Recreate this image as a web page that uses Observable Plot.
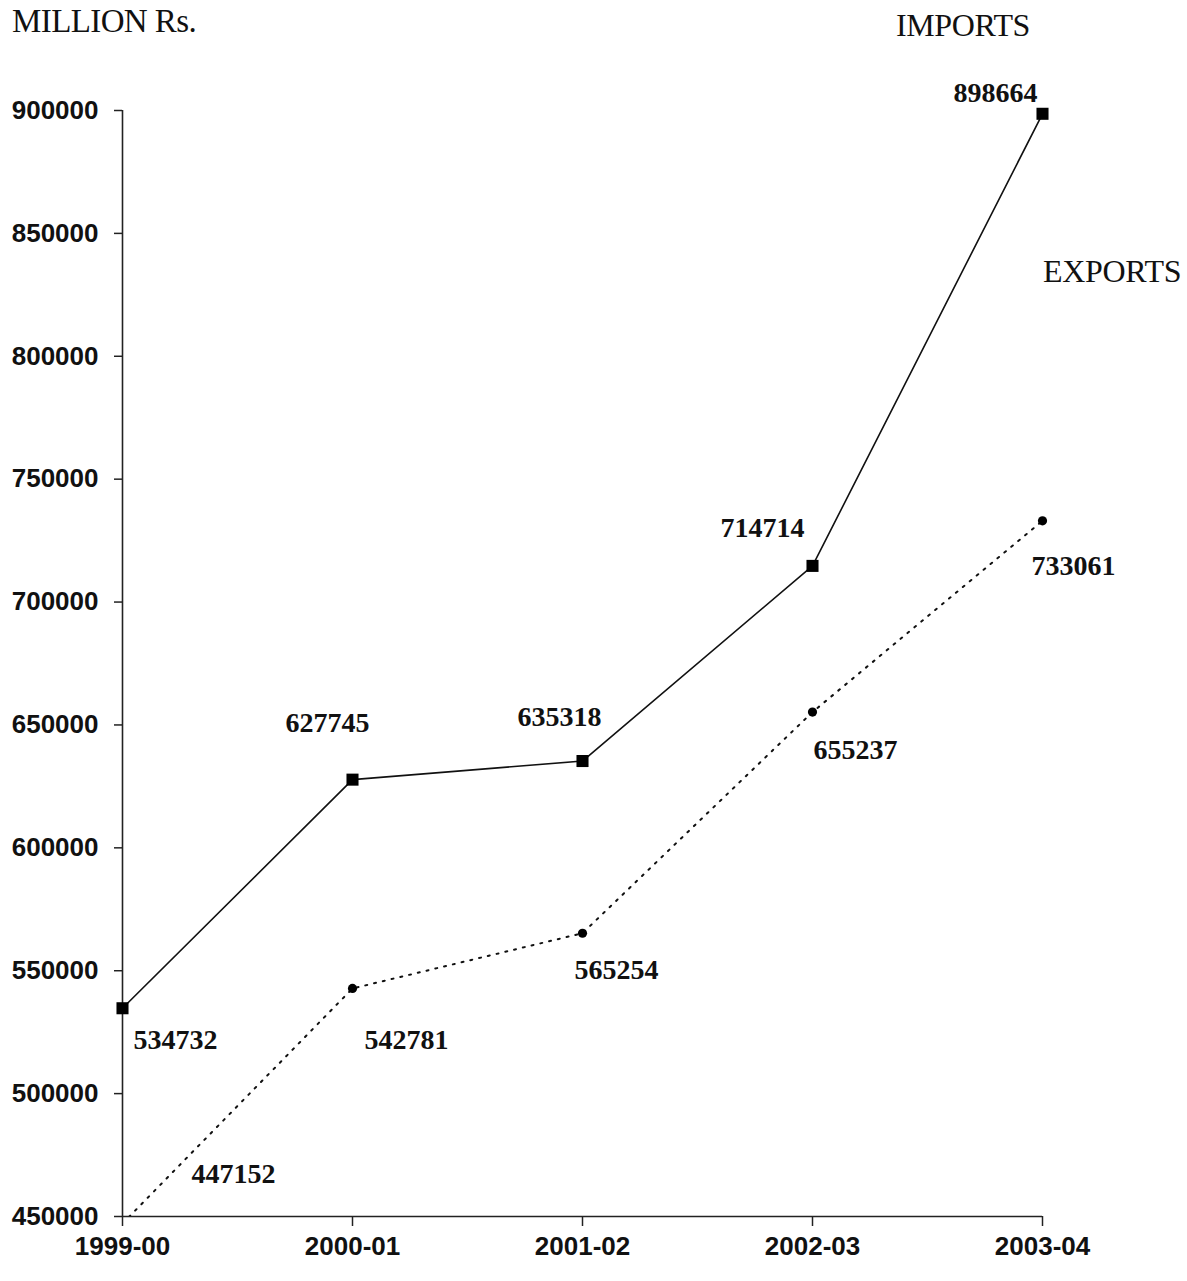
<!DOCTYPE html>
<html>
<head>
<meta charset="utf-8">
<script src="https://cdn.jsdelivr.net/npm/d3@7"></script>
<script src="https://cdn.jsdelivr.net/npm/@observablehq/plot@0.6"></script>
<style>
  html, body { margin: 0; padding: 0; background: #fff; }
  #wrap { position: relative; width: 1187px; height: 1281px; }
  .note { position: absolute; font-family: "Liberation Serif", "Times New Roman", serif; color: #111; white-space: nowrap; line-height: 1; }
  #unit { left: 12px; top: 5px; font-size: 33px; letter-spacing: -0.6px; }
  #imp { left: 896px; top: 9px; font-size: 32px; letter-spacing: -0.4px; }
  #exp { left: 1043px; top: 255px; font-size: 32px; letter-spacing: -0.3px; }
</style>
</head>
<body>
<div id="wrap">
  <div id="chart"></div>
  <div class="note" id="unit">MILLION Rs.</div>
  <div class="note" id="imp">IMPORTS</div>
  <div class="note" id="exp">EXPORTS</div>
</div>
<script>
const years = ["1999-00", "2000-01", "2001-02", "2002-03", "2003-04"];
const imports = [534732, 627745, 635318, 714714, 898664];
const exports = [447152, 542781, 565254, 655237, 733061];
const yTicks = [450000, 500000, 550000, 600000, 650000, 700000, 750000, 800000, 850000, 900000];

// label placement offsets (pixels) relative to each point
const importLabelOffsets = [[53, 32], [-25, -57], [-23, -44], [-50, -38], [-47, -21]];
const exportLabelOffsets = [[111, -49], [54, 52], [34, 37], [43, 38], [31, 45]];

const impData = years.map((y, i) => ({year: y, value: imports[i]}));
const expData = years.map((y, i) => ({year: y, value: exports[i]}));
const yMin = yTicks[0];

const labelFont = {fontFamily: "Liberation Serif, serif", fontWeight: "bold", fontSize: 28, fill: "#111"};
const impLabels = impData.map((d, i) => Plot.text([d], {
  x: "year", y: "value", text: d => String(d.value),
  dx: importLabelOffsets[i][0], dy: importLabelOffsets[i][1], ...labelFont
}));
const expLabels = expData.map((d, i) => Plot.text([d], {
  x: "year", y: "value", text: d => String(d.value),
  dx: exportLabelOffsets[i][0], dy: exportLabelOffsets[i][1], ...labelFont
}));

const chart = Plot.plot({
  width: 1187,
  height: 1281,
  marginLeft: 122,
  marginRight: 145,
  marginTop: 110,
  marginBottom: 65,
  style: {background: "#fff", color: "#111", overflow: "visible"},
  x: {type: "point", domain: years, padding: 0},
  y: {domain: [450000, 900000]},
  marks: [
    Plot.axisY({ticks: yTicks, tickSize: 8, tickPadding: 16, tickFormat: d => String(d), label: null,
      fontSize: 26, fontWeight: "bold", fontFamily: "Liberation Sans, sans-serif", stroke: "#222", strokeWidth: 1.5}),
    Plot.axisX({tickSize: 10, tickPadding: 10, label: null,
      fontSize: 26, fontWeight: "bold", fontFamily: "Liberation Sans, sans-serif", stroke: "#222", strokeWidth: 1.5}),
    Plot.ruleX([years[0]], {stroke: "#222", strokeWidth: 1.6}),
    Plot.ruleY([450000], {stroke: "#222", strokeWidth: 1.6}),
    Plot.line(impData, {x: "year", y: "value", stroke: "#111", strokeWidth: 1.6}),
    Plot.dot(impData, {x: "year", y: "value", symbol: "square", r: 6.8, fill: "#000", stroke: "none"}),
    Plot.line(expData, {x: "year", y: "value", stroke: "#111", strokeWidth: 2, strokeDasharray: "2 7", strokeLinecap: "round", clip: true}),
    Plot.dot(expData, {x: "year", y: "value", r: 4.6, fill: "#000", stroke: "none", filter: d => d.value >= yMin}),
    ...impLabels,
    ...expLabels
  ]
});
document.getElementById("chart").appendChild(chart);
</script>
</body>
</html>
